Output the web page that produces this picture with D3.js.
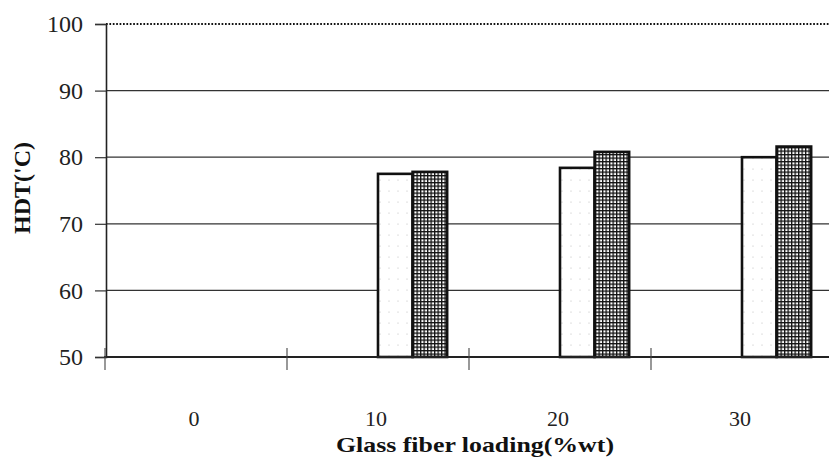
<!DOCTYPE html>
<html><head><meta charset="utf-8">
<script src="https://cdn.jsdelivr.net/npm/d3@7"></script>
<style>body{margin:0;background:#fff}svg{display:block}</style>
</head><body>
<svg id="c" width="829" height="464"></svg>
<script>
const categories = ["0", "10", "20", "30"];
const seriesNames = ["plain", "hatched"];
const plainValues = [null, 77.5, 78.4, 80.0];
const hatchedValues = [null, 77.8, 80.8, 81.6];
const yTicks = [50, 60, 70, 80, 90, 100];
const yTitle = "HDT('C)";
const xTitle = "Glass fiber loading(%wt)";

const svg = d3.select("#c");
const serif = "'Liberation Serif','DejaVu Serif',serif";
const defs = svg.append("defs");
const hp = defs.append("pattern").attr("id","hatch").attr("patternUnits","userSpaceOnUse")
  .attr("width",3.5).attr("height",3.5);
hp.append("rect").attr("width",3.5).attr("height",3.5).attr("fill","#fff");
hp.append("rect").attr("width",3.5).attr("height",1.3).attr("fill","#111");
hp.append("rect").attr("width",1.3).attr("height",3.5).attr("fill","#111");
const dp = defs.append("pattern").attr("id","dots").attr("patternUnits","userSpaceOnUse")
  .attr("width",9).attr("height",11);
dp.append("rect").attr("width",9).attr("height",11).attr("fill","#fff");
dp.append("circle").attr("cx",3).attr("cy",4).attr("r",0.6).attr("fill","#bbb");

const x0 = d3.scaleBand().domain(categories).range([105, 833]).padding(0);
const bw = x0.bandwidth();
const x1 = d3.scaleBand().domain(seriesNames).range([bw/2, bw/2 + 0.38*bw]).padding(0);
const y = d3.scaleLinear().domain([50, 100]).range([357, 24]);
const right = 829;

// gridlines
svg.append("g").selectAll("line").data(yTicks.filter(t => t > 50 && t < 100)).join("line")
  .attr("x1", 106).attr("x2", right).attr("y1", d => y(d)).attr("y2", d => y(d))
  .attr("stroke", "#333").attr("stroke-width", 1.3);
// top dotted line
svg.append("line").attr("x1",106).attr("x2",right).attr("y1",y(100)).attr("y2",y(100))
  .attr("stroke","#111").attr("stroke-width",2).attr("stroke-dasharray","1.7,1.7");

// y axis
const yAxis = svg.append("g").attr("transform","translate(106,0)")
  .call(d3.axisLeft(y).tickValues(yTicks).tickSize(11).tickPadding(12));
yAxis.select(".domain").attr("stroke","#222").attr("stroke-width",1.6);
yAxis.selectAll(".tick line").attr("stroke","#333").attr("stroke-width",1.2);
yAxis.selectAll("text").attr("font-family",serif).attr("font-size",24).attr("fill","#222");

// bars
const data = categories.map((c, i) => ({c, vals: [
  {k: "plain", v: plainValues[i]}, {k: "hatched", v: hatchedValues[i]}]}));
const g = svg.append("g").selectAll("g").data(data).join("g")
  .attr("transform", d => `translate(${x0(d.c)},0)`);
g.selectAll("rect").data(d => d.vals.filter(e => e.v != null)).join("rect")
  .attr("x", d => x1(d.k)).attr("width", x1.bandwidth())
  .attr("y", d => y(d.v)).attr("height", d => y(50) - y(d.v))
  .attr("fill", d => d.k === "plain" ? "url(#dots)" : "url(#hatch)")
  .attr("stroke", "#111").attr("stroke-width", 2.6);

// x axis
svg.append("line").attr("x1",104).attr("x2",right).attr("y1",y(50)).attr("y2",y(50))
  .attr("stroke","#222").attr("stroke-width",1.8);
svg.append("g").selectAll("line").data(categories.concat(["end"])).join("line")
  .attr("x1", (d,i) => 105 + i*bw).attr("x2", (d,i) => 105 + i*bw)
  .attr("y1", y(50) - 9).attr("y2", y(50) + 13)
  .attr("stroke","#444").attr("stroke-width",1.1);
svg.append("g").selectAll("text").data(categories).join("text")
  .attr("x", d => x0(d) + bw/2 - 2).attr("y", 426)
  .attr("text-anchor","middle").attr("font-family",serif).attr("font-size",22).attr("fill","#222")
  .text(d => d);

// titles
svg.append("text").attr("transform","translate(30,188) rotate(-90)")
  .attr("text-anchor","middle").attr("font-family",serif).attr("font-weight","bold")
  .attr("font-size",24).attr("fill","#111").text(yTitle);
svg.append("text").attr("x",475).attr("y",452)
  .attr("text-anchor","middle").attr("font-family",serif).attr("font-weight","bold")
  .attr("font-size",21).attr("textLength",278).attr("lengthAdjust","spacingAndGlyphs")
  .attr("fill","#111").text(xTitle);
</script>
</body></html>
